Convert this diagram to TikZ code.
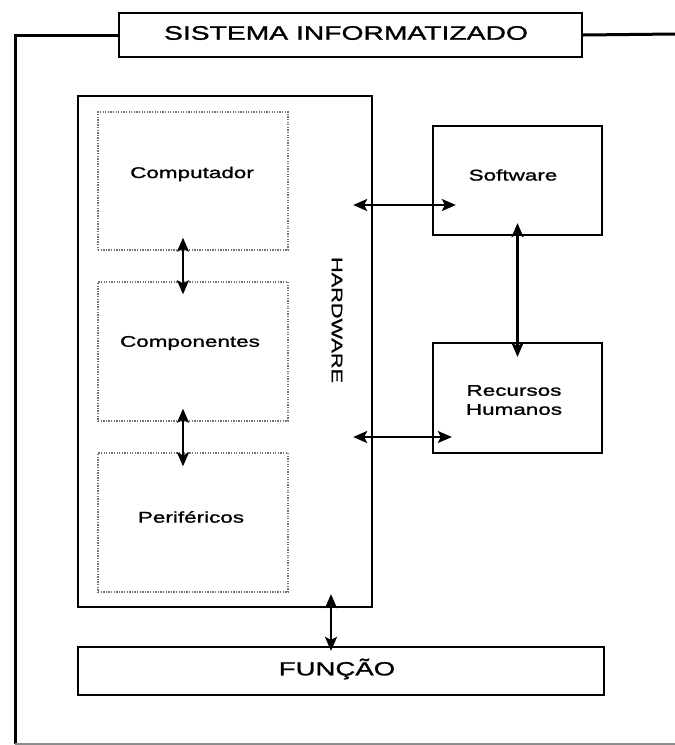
\documentclass[tikz,border=0pt]{standalone}
\usepackage{fontspec}
\setmainfont{Liberation Sans}[FakeStretch=1.45,FakeBold=1.3]
\usetikzlibrary{arrows.meta,calc}
\begin{document}
\begin{tikzpicture}[x=1pt,y=-1pt,
  solidbox/.style={draw=black,line width=2.3pt,minimum width=#1,inner sep=0pt},
  dotbox/.style={draw=black!55,line width=1.4pt,dash pattern=on 1.3pt off 1.3pt,minimum width=190pt,inner sep=0pt},
  lbl/.style={font=\fontsize{15.5}{19}\selectfont,align=center,inner sep=0pt},
  dblarrow/.style={{Stealth[length=14pt,width=12pt,inset=3pt]}-{Stealth[length=14pt,width=12pt,inset=3pt]},line width=2.2pt},
  frameline/.style={line width=3pt}]
\useasboundingbox (0,0) rectangle (675,745);
% title and frame
\node[solidbox=463pt,minimum height=44pt] (title) at (350.5,35) {};
\node[font=\fontsize{19.5}{23}\selectfont,inner sep=0pt] (titletext) at (346,33) {SISTEMA INFORMATIZADO};
\coordinate (fbl) at (15,744);
\coordinate (fbr) at (675,744);
\coordinate (ftr) at (675,34);
\draw[frameline] (fbl) -- (fbl |- title.west) -- (title.west);
\draw[frameline] (title.east) -- (ftr);
\draw[draw=black!45,line width=1.4pt] (fbl) -- (fbr);
% hardware
\node[solidbox=294pt,minimum height=511pt] (hw) at (225,351.5) {};
\node[font=\fontsize{15}{18}\selectfont,inner sep=0pt,rotate=-90] (hwtext) at (337,320) {HARDWARE};
\node[dotbox,minimum height=138pt] (comp) at (193,181) {};
\node[dotbox,minimum height=139pt] (compo) at (193,351.5) {};
\node[dotbox,minimum height=139pt] (peri) at (193,522.5) {};
\node[lbl] (comptext) at (192,174) {Computador};
\node[lbl] (compotext) at (190,343) {Componentes};
\node[lbl] (peritext) at (191,517) {Periféricos};
% software and human resources
\node[solidbox=169pt,minimum height=109pt] (sw) at (517.5,180.5) {};
\node[solidbox=169pt,minimum height=110pt] (rh) at (517.5,398) {};
\node[lbl] (swtext) at (513,175) {Software};
\node[lbl] (rhtext) at (514,400) {Recursos\\Humanos};
% function
\node[solidbox=526pt,minimum height=48pt] (func) at (341,671) {};
\node[font=\fontsize{19}{23}\selectfont,inner sep=0pt] (functext) at (337,669) {FUNÇÃO};
% arrows
\draw[dblarrow] ([xshift=-10pt,yshift=13pt]comp.south) -- ([xshift=-10pt,yshift=-13pt]compo.north);
\draw[dblarrow] ([xshift=-10pt,yshift=13pt]compo.south) -- ([xshift=-10pt,yshift=-14pt]peri.north);
\coordinate (a3r) at ([xshift=24pt,yshift=-24.5pt]sw.west);
\coordinate (a3l) at ([xshift=-20pt]hw.east |- a3r);
\draw[dblarrow] (a3l) -- (a3r);
\coordinate (a4r) at ([xshift=20pt,yshift=-39pt]rh.west);
\coordinate (a4l) at ([xshift=-20pt]hw.east |- a4r);
\draw[dblarrow] (a4l) -- (a4r);
\draw[dblarrow] ([yshift=13pt]sw.south) -- ([yshift=-15pt]rh.north);
\draw[dblarrow] ([xshift=106pt,yshift=14pt]hw.south) -- ([xshift=-10pt,yshift=-5pt]func.north);
\end{tikzpicture}
\end{document}
